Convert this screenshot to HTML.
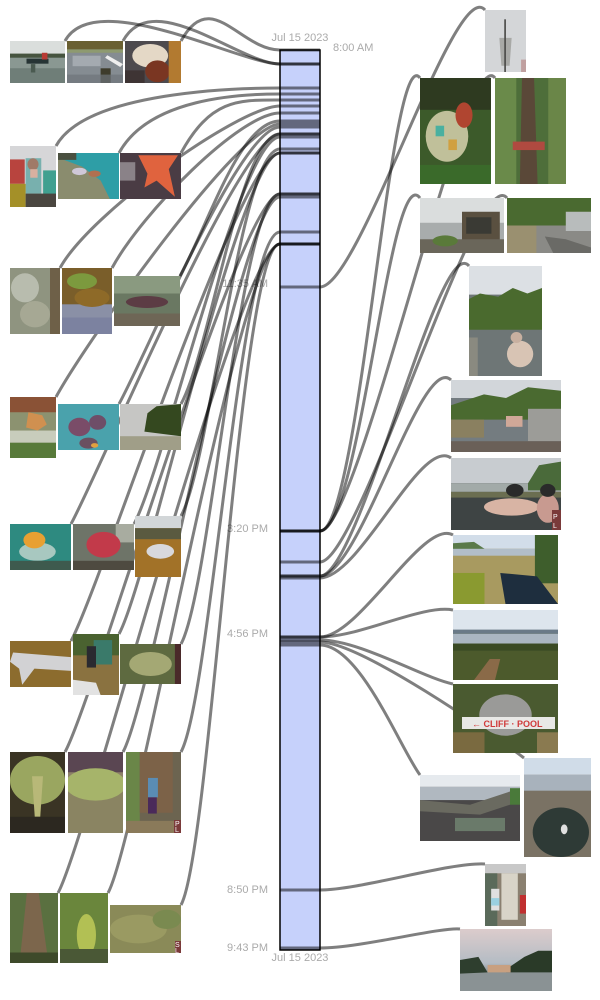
<!DOCTYPE html>
<html><head><meta charset="utf-8"><style>
html,body{margin:0;padding:0;background:#fff;width:600px;height:1000px;overflow:hidden}
svg{display:block}
text{font-family:"Liberation Sans",sans-serif}
</style></head><body>
<svg width="600" height="1000" viewBox="0 0 600 1000" xmlns="http://www.w3.org/2000/svg">
<defs>
<linearGradient id="sky15" x1="0" y1="0" x2="0" y2="1"><stop offset="0" stop-color="#dccccc"/><stop offset="0.55" stop-color="#b4bcc4"/><stop offset="0.7" stop-color="#8a9294"/></linearGradient>
</defs>
<rect width="600" height="1000" fill="#fff"/>
<!-- bar -->
<rect x="280" y="50" width="40" height="900" fill="#c6d1fb" stroke="#000" stroke-width="1.5"/>
<!-- labels -->
<g fill="#aaaaaa" font-size="11">
<text x="300" y="41" text-anchor="middle">Jul 15 2023</text>
<text x="333" y="51">8:00 AM</text>
<text x="268" y="287" text-anchor="end">11:35 AM</text>
<text x="268" y="532" text-anchor="end">3:20 PM</text>
<text x="268" y="637" text-anchor="end">4:56 PM</text>
<text x="268" y="893" text-anchor="end">8:50 PM</text>
<text x="268" y="951" text-anchor="end">9:43 PM</text>
<text x="300" y="961" text-anchor="middle">Jul 15 2023</text>
</g>
<!-- connectors -->
<g fill="none" stroke="#000" stroke-opacity="0.5" stroke-width="3">
<path d="M65 41 C95 -14 240 64 280 64 L320 64"/>
<path d="M123 41 C153 -14 240 64 280 64 L320 64"/>
<path d="M181 41 C211 -14 240 50 280 50 L320 50"/>
<path d="M56 146 C86 91 240 88 280 88 L320 88"/>
<path d="M119 153 C149 98 240 94 280 94 L320 94"/>
<path d="M181 153 C211 98 240 100 280 100 L320 100"/>
<path d="M60 268 C90 213 240 106 280 106 L320 106"/>
<path d="M112 268 C142 213 240 113 280 113 L320 113"/>
<path d="M180 276 C210 221 240 121 280 121 L320 121"/>
<path d="M56 397 C86 342 240 124 280 124 L320 124"/>
<path d="M119 404 C149 349 240 127 280 127 L320 127"/>
<path d="M181 404 C211 349 240 134 280 134 L320 134"/>
<path d="M71 524 C101 469 240 134 280 134 L320 134"/>
<path d="M134 524 C164 469 240 137 280 137 L320 137"/>
<path d="M181 516 C211 461 240 149 280 149 L320 149"/>
<path d="M71 641 C101 586 240 153 280 153 L320 153"/>
<path d="M119 634 C149 579 240 153 280 153 L320 153"/>
<path d="M181 644 C211 589 240 194 280 194 L320 194"/>
<path d="M65 752 C95 697 240 194 280 194 L320 194"/>
<path d="M123 752 C153 697 240 197 280 197 L320 197"/>
<path d="M181 752 C211 697 240 232 280 232 L320 232"/>
<path d="M58 893 C88 838 240 244 280 244 L320 244"/>
<path d="M108 893 C138 838 240 244 280 244 L320 244"/>
<path d="M181 905 C211 850 240 244 280 244 L320 244"/>

<path d="M280 287 L320 287 C360 287 455 -25 485 10"/>
<path d="M280 531 L320 531 C360 531 390 38 420 78"/>
<path d="M280 531 L320 531 C360 531 465 38 495 78"/>
<path d="M280 531 L320 531 C360 531 390 158 420 198"/>
<path d="M280 562 L320 562 C360 562 477 160 507 198"/>
<path d="M280 576 L320 576 C360 576 439 230 469 266"/>
<path d="M280 576 L320 576 C360 576 421 352 451 380"/>
<path d="M280 578 L320 578 C360 578 421 436 451 458"/>
<path d="M280 637 L320 637 C360 637 423 518 453 535"/>
<path d="M280 637 L320 637 C360 637 423 604 453 610"/>
<path d="M280 640 L320 640 C360 640 423 678 453 684"/>
<path d="M280 642 L320 642 C360 642 494 735 524 758"/>
<path d="M280 645 L320 645 C360 645 400 748 420 775"/>
<path d="M280 890 L320 890 C360 890 450 862 485 864"/>
<path d="M280 948 L320 948 C360 948 440 927 460 929"/>
</g>

<!-- left photos -->
<svg x="10" y="41" width="55" height="42" viewBox="0 0 100 100" preserveAspectRatio="none">
<rect width="100" height="100" fill="#7d8c86"/><rect width="100" height="32" fill="#dadedc"/><rect y="30" width="100" height="10" fill="#46543f"/><rect y="40" width="100" height="25" fill="#8a9892"/><rect y="65" width="100" height="35" fill="#6f7e78"/><rect x="30" y="42" width="40" height="12" fill="#263434"/><rect x="58" y="28" width="10" height="16" fill="#b83a34"/><rect x="38" y="55" width="8" height="20" fill="#4a5a50"/>
</svg>
<svg x="67" y="41" width="56" height="42" viewBox="0 0 100 100" preserveAspectRatio="none">
<rect width="100" height="100" fill="#858c92"/><rect width="100" height="20" fill="#6a6032"/><rect y="20" width="100" height="8" fill="#8e9a70"/><rect x="10" y="35" width="50" height="25" fill="#a4aab0"/><polygon points="68,40 95,62 100,55 72,34" fill="#eeeeee"/><rect x="60" y="65" width="18" height="35" fill="#3e3c2c"/><rect y="80" width="100" height="20" fill="#6e747a" opacity=".7"/>
</svg>
<svg x="125" y="41" width="56" height="42" viewBox="0 0 100 100" preserveAspectRatio="none">
<rect width="100" height="100" fill="#4d4a4e"/><ellipse cx="45" cy="35" rx="32" ry="28" fill="#e4d8c6"/><ellipse cx="58" cy="72" rx="22" ry="26" fill="#7a3622"/><rect x="78" width="22" height="100" fill="#b27a30"/><rect y="70" width="35" height="30" fill="#3e3434"/>
</svg>
<svg x="10" y="146" width="46" height="61" viewBox="0 0 100 100" preserveAspectRatio="none">
<rect width="100" height="100" fill="#d6d6d8"/><rect y="22" width="32" height="40" fill="#b8443e"/><rect x="34" y="20" width="34" height="58" fill="#78b0ae"/><ellipse cx="50" cy="30" rx="12" ry="10" fill="#a07a68"/><rect x="44" y="38" width="16" height="14" fill="#d8b0a0"/><rect x="72" y="40" width="28" height="40" fill="#40a090"/><rect y="62" width="34" height="38" fill="#a49028"/><rect x="34" y="78" width="66" height="22" fill="#4a4640"/>
</svg>
<svg x="58" y="153" width="61" height="46" viewBox="0 0 100 100" preserveAspectRatio="none">
<rect width="100" height="100" fill="#2e9ea6"/><polygon points="0,10 40,30 70,60 85,100 0,100" fill="#8a8c6e"/><ellipse cx="35" cy="40" rx="12" ry="8" fill="#cfc8d8"/><ellipse cx="60" cy="45" rx="10" ry="7" fill="#b07050"/><rect width="30" height="15" fill="#4a5040"/>
</svg>
<svg x="120" y="153" width="61" height="46" viewBox="0 0 100 100" preserveAspectRatio="none">
<rect width="100" height="100" fill="#4a3c44"/><polygon points="30,5 95,5 80,35 90,95 60,60 40,75 45,45" fill="#e0633e"/><rect y="20" width="25" height="40" fill="#8a8288"/>
</svg>
<svg x="10" y="268" width="50" height="66" viewBox="0 0 100 100" preserveAspectRatio="none">
<rect width="100" height="100" fill="#8f9480"/><ellipse cx="30" cy="30" rx="28" ry="22" fill="#b8bcae"/><ellipse cx="50" cy="70" rx="30" ry="20" fill="#a6a894"/><rect x="80" width="20" height="100" fill="#6e6048"/>
</svg>
<svg x="62" y="268" width="50" height="66" viewBox="0 0 100 100" preserveAspectRatio="none">
<rect width="100" height="100" fill="#8a90a6"/><rect width="100" height="55" fill="#7a5e2a"/><ellipse cx="40" cy="20" rx="30" ry="12" fill="#7c9a3e"/><ellipse cx="60" cy="45" rx="35" ry="14" fill="#8e6a28"/><rect y="75" width="100" height="25" fill="#7c82a0"/>
</svg>
<svg x="114" y="276" width="66" height="50" viewBox="0 0 100 100" preserveAspectRatio="none">
<rect width="100" height="100" fill="#6a7862"/><rect width="100" height="35" fill="#8a9a80"/><ellipse cx="50" cy="52" rx="32" ry="12" fill="#5c3c44"/><rect y="75" width="100" height="25" fill="#6e6656"/>
</svg>
<svg x="10" y="397" width="46" height="61" viewBox="0 0 100 100" preserveAspectRatio="none">
<rect width="100" height="100" fill="#8c9270"/><rect width="100" height="25" fill="#8a5236"/><polygon points="40,25 70,30 80,45 60,55 35,50" fill="#d09050"/><rect y="55" width="100" height="20" fill="#c8ccbc"/><rect y="75" width="100" height="25" fill="#587a3a"/>
</svg>
<svg x="58" y="404" width="61" height="46" viewBox="0 0 100 100" preserveAspectRatio="none">
<rect width="100" height="100" fill="#4aa2ac"/><ellipse cx="35" cy="50" rx="18" ry="20" fill="#7a4c68"/><ellipse cx="65" cy="40" rx="14" ry="16" fill="#6e4e68"/><ellipse cx="50" cy="85" rx="15" ry="12" fill="#6a5060"/><ellipse cx="60" cy="90" rx="6" ry="5" fill="#e0a040"/>
</svg>
<svg x="120" y="404" width="61" height="46" viewBox="0 0 100 100" preserveAspectRatio="none">
<rect width="100" height="100" fill="#c6c6c4"/><polygon points="40,60 45,20 60,5 100,0 100,70" fill="#34481f"/><rect y="70" width="100" height="30" fill="#a09e88"/>
</svg>
<svg x="10" y="524" width="61" height="46" viewBox="0 0 100 100" preserveAspectRatio="none">
<rect width="100" height="100" fill="#2e8a80"/><ellipse cx="45" cy="60" rx="30" ry="20" fill="#a8c8c0"/><ellipse cx="40" cy="35" rx="18" ry="18" fill="#e8a032"/><rect y="80" width="100" height="20" fill="#3e5a4e"/>
</svg>
<svg x="73" y="524" width="61" height="46" viewBox="0 0 100 100" preserveAspectRatio="none">
<rect width="100" height="100" fill="#6e7468"/><rect x="70" width="30" height="40" fill="#a8aca0"/><circle cx="50" cy="45" r="28" fill="#c23a4a"/><rect y="80" width="100" height="20" fill="#4e4a40"/>
</svg>
<svg x="135" y="516" width="46" height="61" viewBox="0 0 100 100" preserveAspectRatio="none">
<rect width="100" height="100" fill="#a27228"/><rect width="100" height="20" fill="#d2d6d8"/><rect y="20" width="100" height="18" fill="#5a5a40"/><ellipse cx="55" cy="58" rx="30" ry="12" fill="#d8d8dc"/>
</svg>
<svg x="10" y="641" width="61" height="46" viewBox="0 0 100 100" preserveAspectRatio="none">
<rect width="100" height="100" fill="#8c6c2e"/><polygon points="5,25 100,35 100,65 40,60 20,95 15,60 0,45" fill="#d2d2d4"/>
</svg>
<svg x="73" y="634" width="46" height="61" viewBox="0 0 100 100" preserveAspectRatio="none">
<rect width="100" height="100" fill="#8a7240"/><rect width="100" height="35" fill="#4a6230"/><rect x="45" y="10" width="40" height="40" fill="#3a7a6a"/><rect x="30" y="20" width="20" height="35" fill="#2a2a30"/><polygon points="0,75 50,80 60,100 0,100" fill="#e2e2e2"/>
</svg>
<svg x="120" y="644" width="61" height="40" viewBox="0 0 100 100" preserveAspectRatio="none">
<rect width="100" height="100" fill="#5e6a40"/><ellipse cx="50" cy="50" rx="35" ry="30" fill="#a4a874"/><rect x="90" width="10" height="100" fill="#4a2a2a"/>
</svg>
<svg x="10" y="752" width="55" height="81" viewBox="0 0 100 100" preserveAspectRatio="none">
<rect width="100" height="100" fill="#3a3424"/><ellipse cx="50" cy="35" rx="50" ry="30" fill="#9aa660"/><polygon points="40,30 60,30 55,80 45,80" fill="#b8b878"/><rect y="80" width="100" height="20" fill="#2c2820"/>
</svg>
<svg x="68" y="752" width="55" height="81" viewBox="0 0 100 100" preserveAspectRatio="none">
<rect width="100" height="100" fill="#8c8068"/><rect width="100" height="25" fill="#5a4652"/><rect y="50" width="100" height="50" fill="#8a8462"/><ellipse cx="50" cy="40" rx="55" ry="20" fill="#a6b46a"/>
</svg>
<svg x="126" y="752" width="55" height="81" viewBox="0 0 100 100" preserveAspectRatio="none">
<rect width="100" height="100" fill="#6c6450"/><rect width="25" height="100" fill="#6a8648"/><rect x="25" width="60" height="75" fill="#7c6248"/><rect x="40" y="32" width="18" height="24" fill="#5a8cb4"/><rect x="40" y="56" width="16" height="20" fill="#4a2a5a"/><rect y="85" width="100" height="15" fill="#8a7a5a"/>
</svg>
<svg x="10" y="893" width="48" height="70" viewBox="0 0 100 100" preserveAspectRatio="none">
<rect width="100" height="100" fill="#5a7040"/><polygon points="35,0 60,0 80,100 20,100" fill="#7c664c"/><rect y="85" width="100" height="15" fill="#3e4a2a"/>
</svg>
<svg x="60" y="893" width="48" height="70" viewBox="0 0 100 100" preserveAspectRatio="none">
<rect width="100" height="100" fill="#6a863c"/><ellipse cx="55" cy="60" rx="20" ry="30" fill="#b2c054"/><rect y="80" width="100" height="20" fill="#4a5836"/>
</svg>
<svg x="110" y="905" width="71" height="48" viewBox="0 0 100 100" preserveAspectRatio="none">
<rect width="100" height="100" fill="#8a8a58"/><ellipse cx="40" cy="50" rx="40" ry="30" fill="#9a9a62"/><ellipse cx="80" cy="30" rx="20" ry="20" fill="#7a8a50"/>
</svg>

<!-- right photos -->
<svg x="485" y="10" width="41" height="62" viewBox="0 0 100 100" preserveAspectRatio="none">
<rect width="100" height="100" fill="#d4d6d8"/><polygon points="35,45 65,45 60,90 40,90" fill="#8a8a86" opacity=".6"/><rect x="47" y="15" width="4" height="85" fill="#4a4a48"/><rect x="88" y="80" width="12" height="20" fill="#c0a0a0"/>
</svg>
<svg x="420" y="78" width="71" height="106" viewBox="0 0 100 100" preserveAspectRatio="none">
<rect width="100" height="100" fill="#3c5a2a"/><rect width="100" height="30" fill="#2e3a20"/><ellipse cx="38" cy="55" rx="30" ry="24" fill="#c0c09a"/><rect x="22" y="45" width="12" height="10" fill="#4ab0a0"/><rect x="40" y="58" width="12" height="10" fill="#d0a040"/><circle cx="62" cy="35" r="12" fill="#b04530"/><rect y="82" width="100" height="18" fill="#3a6a2a"/>
</svg>
<svg x="495" y="78" width="71" height="106" viewBox="0 0 100 100" preserveAspectRatio="none">
<rect width="100" height="100" fill="#4e6e3a"/><rect width="30" height="100" fill="#6a8a4a"/><rect x="75" width="25" height="100" fill="#6a8648"/><polygon points="38,0 55,0 60,100 35,100" fill="#5a4838"/><rect x="25" y="60" width="45" height="8" fill="#b04a40"/>
</svg>
<svg x="420" y="198" width="84" height="55" viewBox="0 0 100 100" preserveAspectRatio="none">
<rect width="100" height="100" fill="#a8acac"/><rect width="100" height="45" fill="#dadddd"/><rect x="50" y="25" width="45" height="55" fill="#5a5040"/><rect x="55" y="35" width="30" height="30" fill="#3a3a34"/><rect y="75" width="100" height="25" fill="#6a665a"/><ellipse cx="30" cy="78" rx="15" ry="10" fill="#5a7a3a"/>
</svg>
<svg x="507" y="198" width="84" height="55" viewBox="0 0 100 100" preserveAspectRatio="none">
<rect width="100" height="100" fill="#8a8a86"/><rect width="100" height="50" fill="#4a6a30"/><rect x="70" y="25" width="30" height="35" fill="#b8bcbc"/><rect y="50" width="35" height="50" fill="#9a9070"/><polygon points="45,70 70,75 100,90 100,100 55,100" fill="#6a6a66"/>
</svg>
<svg x="469" y="266" width="73" height="110" viewBox="0 0 100 100" preserveAspectRatio="none">
<rect width="100" height="100" fill="#6e7676"/><rect width="100" height="26" fill="#dce0e4"/><polygon points="0,30 15,25 40,28 60,20 80,25 100,20 100,58 0,58" fill="#4a6a2e"/><ellipse cx="70" cy="80" rx="18" ry="12" fill="#d8c4b4"/><ellipse cx="65" cy="65" rx="8" ry="5" fill="#c8b0a0"/><rect y="65" width="12" height="35" fill="#8a8a80"/>
</svg>
<svg x="451" y="380" width="110" height="72" viewBox="0 0 100 100" preserveAspectRatio="none">
<rect width="100" height="100" fill="#747c80"/><rect width="100" height="25" fill="#d2d6da"/><polygon points="0,35 30,20 50,25 70,10 100,15 100,45 70,55 0,55" fill="#4a6a30"/><rect x="70" y="40" width="30" height="45" fill="#9c9c98"/><rect y="55" width="30" height="25" fill="#8a8060"/><rect y="85" width="100" height="15" fill="#6a6058"/><rect x="50" y="50" width="15" height="15" fill="#d0a898"/>
</svg>
<svg x="451" y="458" width="110" height="72" viewBox="0 0 100 100" preserveAspectRatio="none">
<rect width="100" height="100" fill="#3e4444"/><rect width="100" height="35" fill="#c8ccd0"/><rect y="35" width="100" height="12" fill="#a2aaa8"/><polygon points="70,35 80,10 100,5 100,45 70,45" fill="#4a6a3a"/><rect y="47" width="100" height="8" fill="#8a8a5a" opacity=".6"/><ellipse cx="55" cy="68" rx="25" ry="12" fill="#d8b4a4"/><ellipse cx="88" cy="70" rx="10" ry="20" fill="#c89a90"/><ellipse cx="58" cy="45" rx="8" ry="9" fill="#2a2a2a"/><ellipse cx="88" cy="45" rx="7" ry="9" fill="#2a2a2a"/>
</svg>
<svg x="453" y="535" width="105" height="69" viewBox="0 0 100 100" preserveAspectRatio="none">
<rect width="100" height="100" fill="#a89a60"/><rect width="100" height="20" fill="#d2dde9"/><polygon points="0,12 20,10 35,25 0,25" fill="#5a7a4a"/><rect y="20" width="100" height="10" fill="#b2bec8"/><rect x="78" width="22" height="70" fill="#3e5e2c"/><polygon points="45,55 80,60 100,100 50,100" fill="#1e2e3e"/><rect y="55" width="30" height="45" fill="#8a9a30"/>
</svg>
<svg x="453" y="610" width="105" height="70" viewBox="0 0 100 100" preserveAspectRatio="none">
<rect width="100" height="100" fill="#4c5a2c"/><rect width="100" height="33" fill="#dde5ed"/><rect y="28" width="100" height="6" fill="#6a7a88"/><rect y="34" width="100" height="14" fill="#aab6c2"/><rect y="48" width="100" height="10" fill="#3a4a24"/><polygon points="20,100 35,70 45,70 40,100" fill="#8a6a48"/>
</svg>
<svg x="453" y="684" width="105" height="69" viewBox="0 0 100 100" preserveAspectRatio="none">
<rect width="100" height="100" fill="#4a5a30"/><ellipse cx="50" cy="45" rx="25" ry="30" fill="#9a9a98"/><rect y="70" width="30" height="30" fill="#7a6a40"/><rect x="80" y="70" width="20" height="30" fill="#8a7a50"/>
</svg>
<rect x="462" y="717" width="93" height="12" fill="#e8e8e6"/>
<text x="472" y="727" font-size="9" font-weight="bold" fill="#d03a3a">← CLIFF · POOL</text>
<svg x="524" y="758" width="67" height="99" viewBox="0 0 100 100" preserveAspectRatio="none">
<rect width="100" height="100" fill="#7a7264"/><rect width="100" height="17" fill="#d0dce8"/><rect y="17" width="100" height="16" fill="#a8b2bc"/><ellipse cx="55" cy="75" rx="42" ry="25" fill="#2e3a36"/><circle cx="60" cy="72" r="5" fill="#e0e0e0"/>
</svg>
<svg x="420" y="775" width="100" height="66" viewBox="0 0 100 100" preserveAspectRatio="none">
<rect width="100" height="100" fill="#4a4848"/><rect width="100" height="18" fill="#e6eaee"/><rect y="18" width="100" height="20" fill="#b0b8c0"/><polygon points="0,38 50,45 100,20 100,40 60,60 0,55" fill="#6a6a60"/><rect x="35" y="65" width="50" height="20" fill="#6a7a6a"/><rect x="90" y="20" width="10" height="25" fill="#4a7a3a"/>
</svg>
<svg x="485" y="864" width="41" height="62" viewBox="0 0 100 100" preserveAspectRatio="none">
<rect width="100" height="100" fill="#8a8070"/><rect width="100" height="15" fill="#c8c8c8"/><rect x="40" y="15" width="40" height="75" fill="#d8d4c8"/><rect y="15" width="30" height="85" fill="#5a6a5a"/><rect x="15" y="40" width="20" height="35" fill="#e0e0e0"/><rect x="15" y="55" width="20" height="12" fill="#9ad0e0"/><rect x="85" y="50" width="15" height="30" fill="#c03030"/>
</svg>
<svg x="460" y="929" width="92" height="62" viewBox="0 0 100 100" preserveAspectRatio="none">
<rect width="100" height="100" fill="url(#sky15)"/><rect y="70" width="100" height="30" fill="#8a9294"/><polygon points="0,50 20,45 30,70 0,72" fill="#2e3e2e"/><polygon points="55,60 70,45 85,35 100,35 100,70 50,70" fill="#2a3a28"/><rect x="30" y="58" width="25" height="12" fill="#c8a080"/>
</svg>

<!-- watermarks -->
<g font-size="7" fill="#fff">
<rect x="174" y="820" width="7" height="13" fill="#7a3a3a"/><text x="175" y="826">P</text><text x="175" y="832">L</text>
<rect x="552" y="510" width="9" height="20" fill="#7a3a3a"/><text x="553" y="519">P</text><text x="553" y="528">L</text>
<rect x="175" y="941" width="6" height="12" fill="#7a3a3a"/><text x="175" y="947">S</text><text x="175" y="953">L</text>
</g>
</svg>
</body></html>
